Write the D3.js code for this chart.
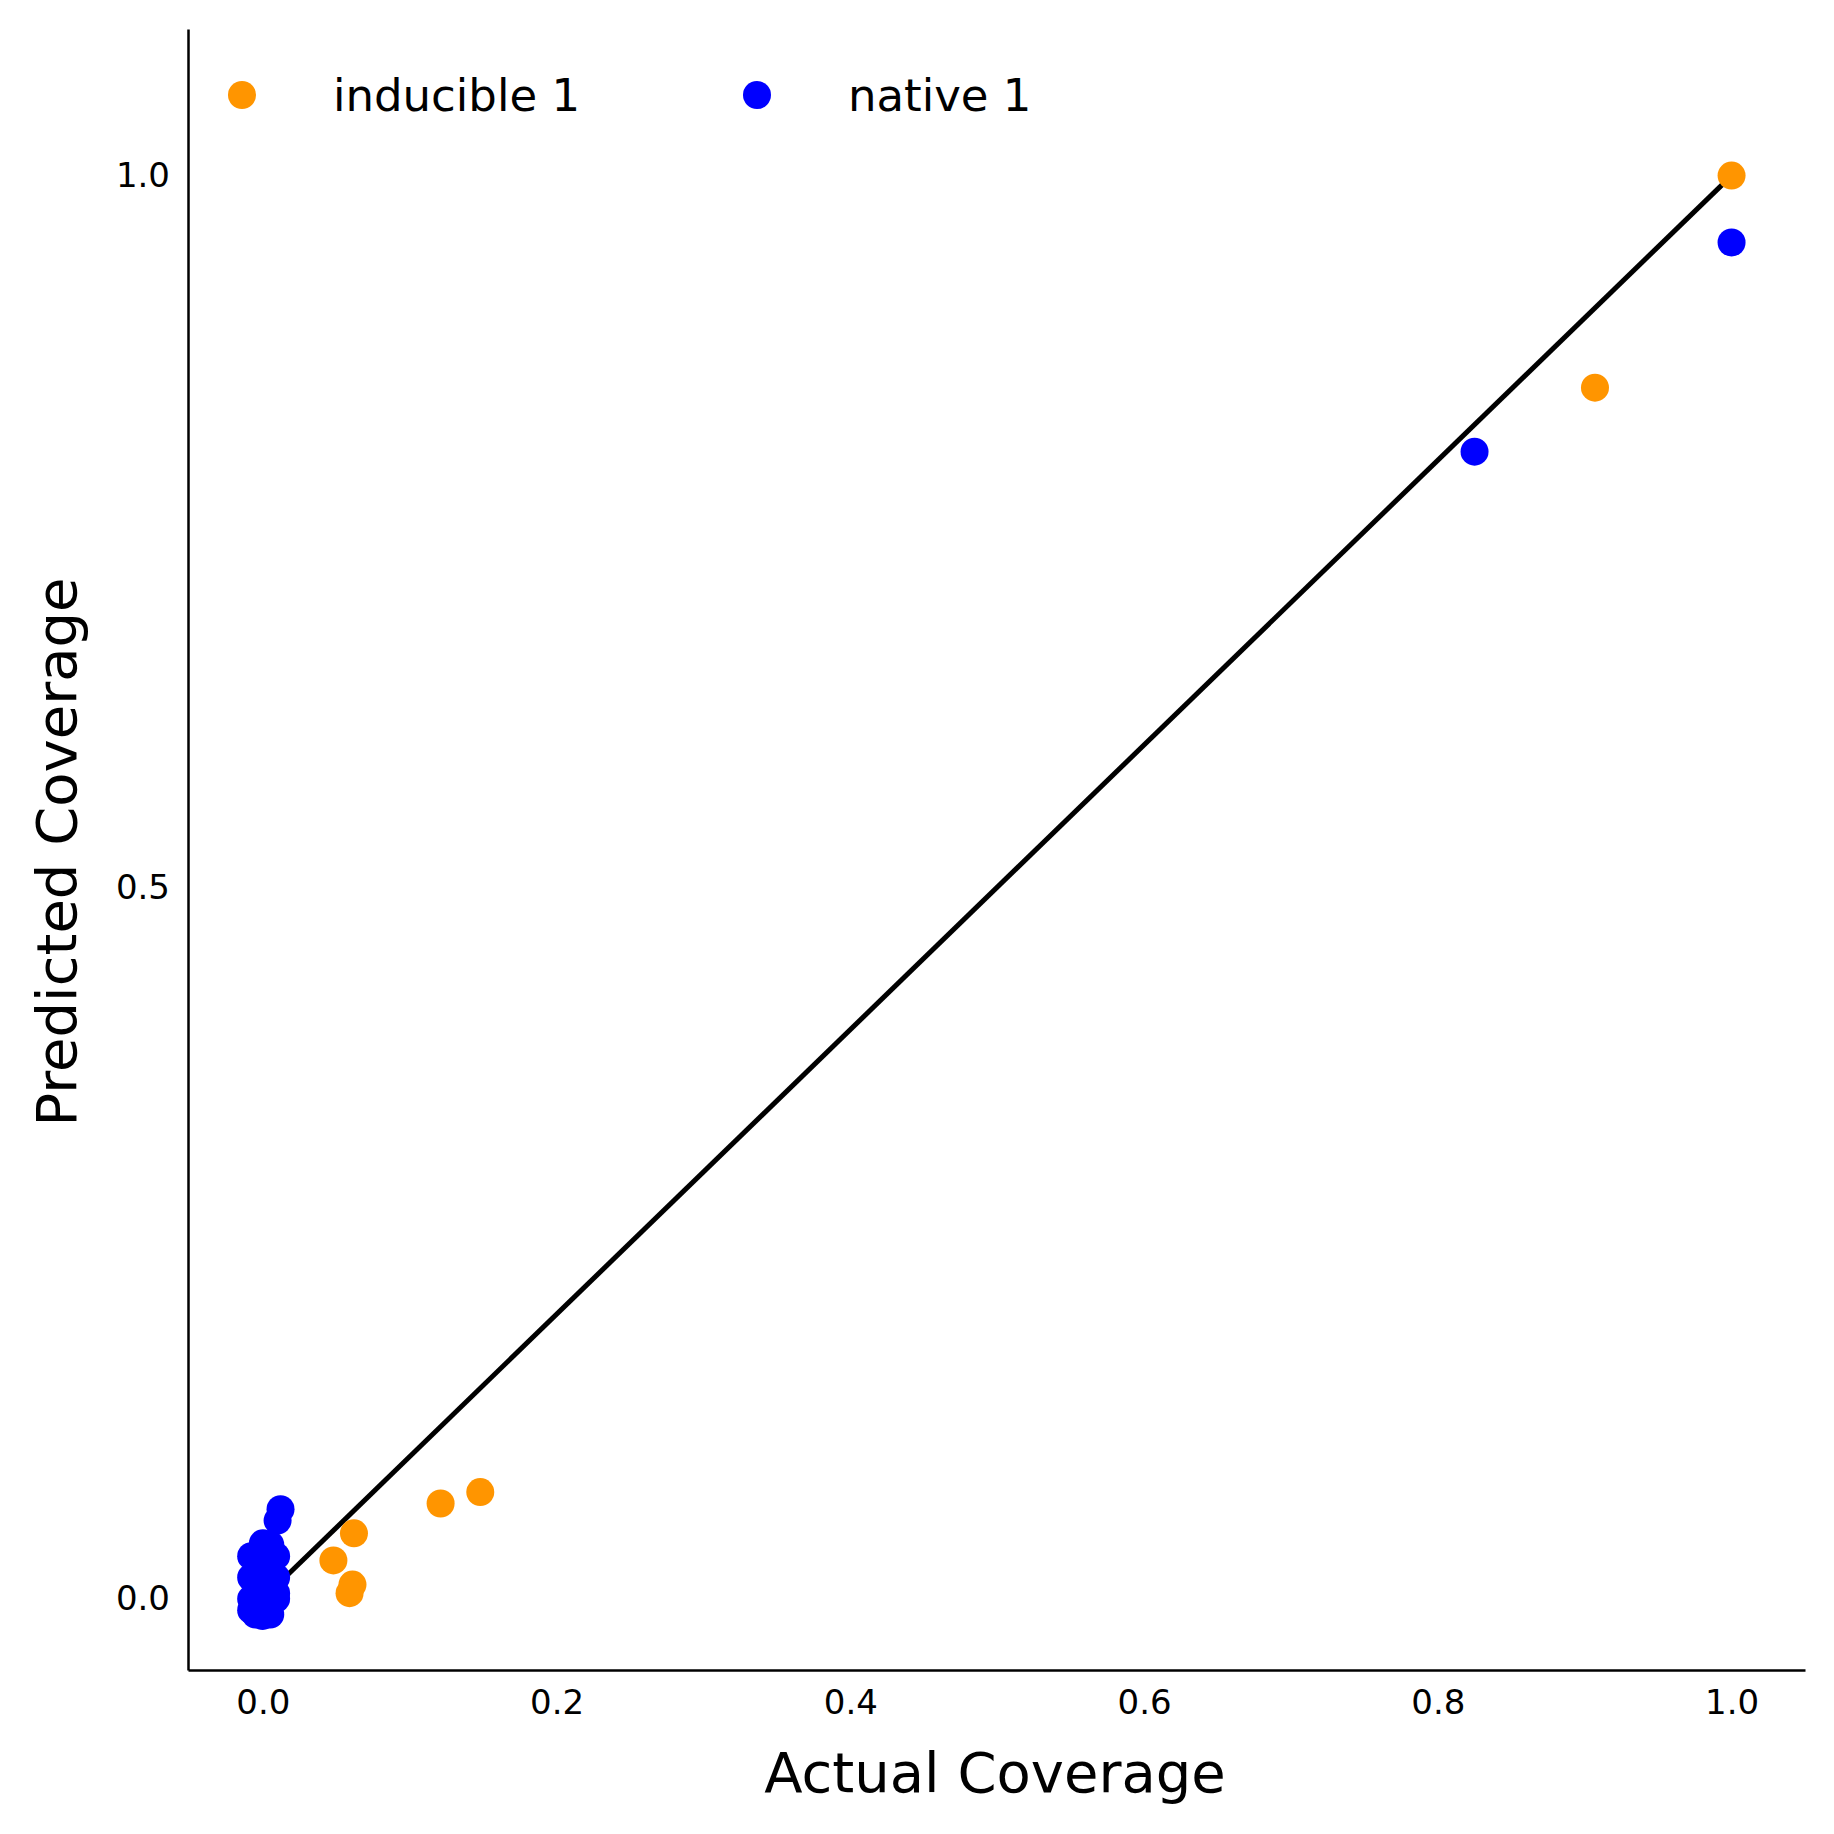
<!DOCTYPE html>
<html><head><meta charset="utf-8">
<script src="https://cdn.jsdelivr.net/npm/d3@7"></script>
<style>body{margin:0;background:#fff}</style>
</head><body><svg id="chart"></svg>
<script>
// data
const inducibleX = [1.0, 0.907, 0.148, 0.121, 0.062, 0.048, 0.061, 0.059];
const inducibleY = [1.0, 0.851, 0.075, 0.067, 0.046, 0.027, 0.010, 0.004];
const nativeX = [1.0, 0.825, 0.012, 0.010, 0.0, 0.005, -0.008, 0.009, -0.008, 0.009, -0.008, 0.009, -0.008, 0.009, 0.0, -0.005, 0.005, 0.0, 0.002, 0.0];
const nativeY = [0.953, 0.806, 0.063, 0.055, 0.039, 0.038, 0.030, 0.030, 0.015, 0.015, 0.0, 0.0, -0.008, 0.004, 0.020, -0.011, -0.011, -0.012, 0.010, 0.0];
const xTicks = [0.0, 0.2, 0.4, 0.6, 0.8, 1.0];
const yTicks = [0.0, 0.5, 1.0];
const lineX = [0.016, 1.0];

const W = 1834, H = 1834;
const margin = {top: 29, right: 29, bottom: 164, left: 188};

const svg = d3.select("#chart").attr("width", W).attr("height", H);
const x = d3.scaleLinear().domain([-0.051, 1.05]).range([margin.left, W - margin.right]);
const y = d3.scaleLinear().domain([-0.05, 1.103]).range([H - margin.bottom, margin.top]);

const font = "DejaVu Sans";

const xAxis = svg.append("g").attr("transform", `translate(0,${H - margin.bottom})`)
    .call(d3.axisBottom(x).tickValues(xTicks).tickFormat(d3.format(".1f")).tickSize(0).tickPadding(20));
const yAxis = svg.append("g").attr("transform", `translate(${margin.left},0)`)
    .call(d3.axisLeft(y).tickValues(yTicks).tickFormat(d3.format(".1f")).tickSize(0).tickPadding(18));
[xAxis, yAxis].forEach(a => {
    a.select(".domain").attr("stroke", "#000").attr("stroke-width", 2.5);
    a.selectAll("text").attr("font-family", font).attr("font-size", 34).attr("fill", "#000");
});

svg.append("line")
    .attr("x1", x(lineX[0])).attr("y1", y(lineX[0]))
    .attr("x2", x(lineX[1])).attr("y2", y(lineX[1]))
    .attr("stroke", "#000").attr("stroke-width", 5);

const drawPts = (xs, ys, color) => svg.append("g").selectAll("circle")
    .data(xs.map((v, i) => [v, ys[i]])).join("circle")
    .attr("cx", d => x(d[0])).attr("cy", d => y(d[1])).attr("r", 14).attr("fill", color);
drawPts(inducibleX, inducibleY, "#ff9500");
drawPts(nativeX, nativeY, "#0000ff");

// legend
const legend = [["inducible 1", "#ff9500", 242, 333], ["native 1", "#0000ff", 757, 848]];
legend.forEach(([label, color, cx, tx]) => {
    svg.append("circle").attr("cx", cx).attr("cy", 95).attr("r", 14).attr("fill", color);
    svg.append("text").attr("x", tx).attr("y", 95).attr("dy", "0.35em")
        .attr("font-family", font).attr("font-size", 45).text(label);
});

svg.append("text").attr("x", 995).attr("y", 1772).attr("dy", "0.35em").attr("text-anchor", "middle")
    .attr("font-family", font).attr("font-size", 56).text("Actual Coverage");
svg.append("text").attr("transform", "translate(56,852) rotate(-90)").attr("dy", "0.35em")
    .attr("text-anchor", "middle").attr("font-family", font).attr("font-size", 56).text("Predicted Coverage");
</script></body></html>
